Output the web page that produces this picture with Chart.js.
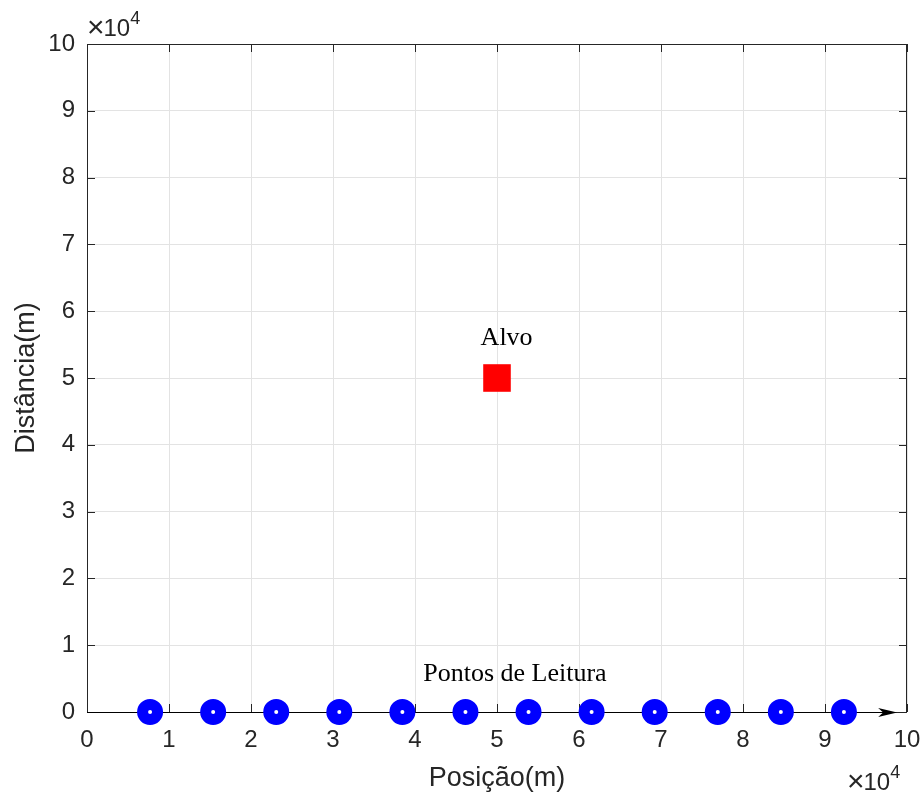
<!DOCTYPE html>
<html>
<head>
<meta charset="utf-8">
<script src="https://cdn.jsdelivr.net/npm/chart.js@4/dist/chart.umd.min.js"></script>
<style>
  html, body { margin: 0; padding: 0; background: #fff; }
  #wrap { width: 923px; height: 796px; }
</style>
</head>
<body>
<div id="wrap"><canvas id="grafico" width="923" height="796"></canvas></div>
<script>
// dados do gráfico (metros)
const pontosX = [7692, 15385, 23077, 30769, 38462, 46154, 53846, 61538, 69231, 76923, 84615, 92308];
const pontosY = [0, 0, 0, 0, 0, 0, 0, 0, 0, 0, 0, 0];
const alvoX = [50000];
const alvoY = [50000];
const setaX = [0, 98800];
const setaY = [0, 0];
const rotulos = ['Alvo', 'Pontos de Leitura'];
const rotulosX = [48000, 41000];
const rotulosY = [56000, 5700];
const escala = 10000; // ×10^4

const corEixo = '#262626';
const corGrade = '#e3e3e3';
const fonteSans = '"Liberation Sans", Arial, sans-serif';
const fonteSerif = '"Liberation Serif", "Times New Roman", serif';

// plugin para caixa, marcas internas, seta, textos e multiplicador
const extras = {
    id: 'extras',
    beforeDatasetsDraw(chart) {
        const { ctx, chartArea: a, scales: { x, y } } = chart;
        ctx.save();
        // caixa completa
        ctx.strokeStyle = corEixo;
        ctx.lineWidth = 1;
        ctx.strokeRect(a.left + 0.5, a.top + 0.5, a.right - a.left - 1, a.bottom - a.top);
        // marcas internas nos quatro lados
        const len = 8;
        ctx.beginPath();
        x.ticks.forEach(t => {
            const px = Math.round(x.getPixelForValue(t.value)) + 0.5;
            ctx.moveTo(px, a.bottom); ctx.lineTo(px, a.bottom - len);
            ctx.moveTo(px, a.top); ctx.lineTo(px, a.top + len);
        });
        y.ticks.forEach(t => {
            const py = Math.round(y.getPixelForValue(t.value)) + 0.5;
            ctx.moveTo(a.left, py); ctx.lineTo(a.left + len, py);
            ctx.moveTo(a.right, py); ctx.lineTo(a.right - len, py);
        });
        ctx.stroke();
        // seta ao longo do eixo
        const x0 = x.getPixelForValue(setaX[0]);
        const x1 = x.getPixelForValue(setaX[1]);
        const y0 = Math.round(y.getPixelForValue(setaY[0])) + 0.5;
        ctx.strokeStyle = '#000';
        ctx.beginPath();
        ctx.moveTo(x0, y0); ctx.lineTo(x1 - 10, y0);
        ctx.stroke();
        ctx.fillStyle = '#000';
        ctx.beginPath();
        ctx.moveTo(x1, y0);
        ctx.lineTo(x1 - 19, y0 - 4.5);
        ctx.lineTo(x1 - 14, y0);
        ctx.lineTo(x1 - 19, y0 + 4.5);
        ctx.closePath();
        ctx.fill();
        ctx.restore();
    },
    afterDraw(chart) {
        const { ctx, chartArea: a, scales: { x, y } } = chart;
        ctx.save();
        // rótulos de texto
        ctx.fillStyle = '#000';
        ctx.font = '26px ' + fonteSerif;
        ctx.textAlign = 'left';
        ctx.textBaseline = 'middle';
        rotulos.forEach((r, i) => {
            ctx.fillText(r, x.getPixelForValue(rotulosX[i]), y.getPixelForValue(rotulosY[i]));
        });
        // multiplicadores ×10^4
        ctx.fillStyle = corEixo;
        ctx.textBaseline = 'alphabetic';
        const mult = (px, py) => {
            ctx.font = '30px ' + fonteSans;
            ctx.fillText('\u00d7', px - 2, py + 1);
            const wx = ctx.measureText('\u00d7').width - 3;
            ctx.font = '24px ' + fonteSans;
            ctx.fillText('10', px + wx, py);
            const w = wx + ctx.measureText('10').width;
            ctx.font = '18px ' + fonteSans;
            ctx.fillText('4', px + w, py - 12);
        };
        mult(a.left + 2, 36);
        mult(a.right - 58, 790);
        ctx.restore();
    }
};

new Chart(document.getElementById('grafico'), {
    type: 'scatter',
    data: {
        datasets: [
            {
                label: 'Pontos de Leitura',
                data: pontosX.map((v, i) => ({ x: v, y: pontosY[i] })),
                pointStyle: 'circle',
                pointRadius: 7.5,
                pointHoverRadius: 7.5,
                pointBorderWidth: 11,
                borderColor: '#0000ff',
                backgroundColor: '#ffffff',
                clip: false
            },
            {
                label: 'Alvo',
                data: alvoX.map((v, i) => ({ x: v, y: alvoY[i] })),
                pointStyle: 'rect',
                pointRadius: 19.5,
                pointHoverRadius: 19.5,
                pointBorderWidth: 0,
                borderColor: '#ff0000',
                backgroundColor: '#ff0000',
                clip: false
            }
        ]
    },
    options: {
        responsive: false,
        animation: false,
        events: [],
        layout: { autoPadding: false, padding: { left: 0, top: 44, right: 16, bottom: 0 } },
        plugins: { legend: { display: false }, tooltip: { enabled: false } },
        scales: {
            x: {
                type: 'linear',
                min: 0,
                max: 100000,
                afterFit: s => { s.height = 84; s.paddingLeft = 0; s.paddingRight = 0; },
                ticks: {
                    stepSize: 10000,
                    color: corEixo,
                    font: { family: fonteSans, size: 24 },
                    padding: 14,
                    maxRotation: 0,
                    callback: v => v / escala
                },
                grid: { color: corGrade, drawTicks: false },
                border: { display: false },
                title: {
                    display: true,
                    text: 'Posição(m)',
                    color: corEixo,
                    font: { family: fonteSans, size: 27, lineHeight: 1.2 },
                    padding: { top: 0, bottom: 1 }
                }
            },
            y: {
                type: 'linear',
                min: 0,
                max: 100000,
                afterFit: s => { s.width = 87; s.paddingTop = 0; s.paddingBottom = 0; },
                ticks: {
                    stepSize: 10000,
                    color: corEixo,
                    font: { family: fonteSans, size: 24 },
                    padding: 12,
                    callback: v => v / escala
                },
                grid: { color: corGrade, drawTicks: false },
                border: { display: false },
                title: {
                    display: true,
                    text: 'Distância(m)',
                    color: corEixo,
                    font: { family: fonteSans, size: 27, lineHeight: 1.2 },
                    padding: { top: 10, bottom: 0 }
                }
            }
        }
    },
    plugins: [extras]
});
</script>
</body>
</html>
